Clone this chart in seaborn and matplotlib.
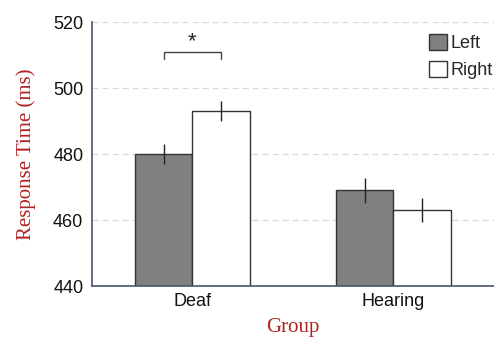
import matplotlib
matplotlib.use("Agg")
import matplotlib.pyplot as plt
import seaborn as sns
import pandas as pd
import numpy as np

groups = ["Deaf", "Hearing"]
sides = ["Left", "Right"]
left_rt = [480, 469]
right_rt = [493, 463]
left_err = [3.0, 3.8]
right_err = [3.0, 3.7]

df = pd.DataFrame({
    "Group": groups * 2,
    "Side": ["Left"] * 2 + ["Right"] * 2,
    "RT": left_rt + right_rt,
    "err": left_err + right_err,
})

sns.set_style("white")
plt.rcParams["font.family"] = ["Liberation Sans", "DejaVu Sans"]

fig = plt.figure(figsize=(4.94, 3.38), dpi=100)
ax = fig.add_axes([0.1856, 0.1538, 0.8144, 0.7811])

sns.barplot(data=df, x="Group", y="RT", hue="Side", order=groups, hue_order=sides,
            palette={"Left": "#808080", "Right": "#ffffff"}, errorbar=None,
            width=0.57, edgecolor="#333333", linewidth=1.0, ax=ax, zorder=2)

# error bars from patch centres
for side, container in zip(sides, ax.containers):
    errs = left_err if side == "Left" else right_err
    vals = left_rt if side == "Left" else right_rt
    xs = [b.get_x() + b.get_width() / 2 for b in container]
    ax.errorbar(xs, vals, yerr=errs, fmt="none", ecolor="#222222", elinewidth=1.0,
                capsize=0, zorder=3)

ax.set_ylim(440, 520)
ax.set_xlim(-0.5, 1.5)
ax.set_yticks([440, 460, 480, 500, 520])
ax.yaxis.grid(True, linestyle=(0, (5, 3)), color="#d9d9d9", linewidth=0.9, zorder=0)
ax.set_axisbelow(True)
for s in ["top", "right"]:
    ax.spines[s].set_visible(False)
for s in ["left", "bottom"]:
    ax.spines[s].set_color("#4a5566")
    ax.spines[s].set_linewidth(1.2)
ax.tick_params(axis="both", length=0, labelsize=13, colors="#111111")
ax.tick_params(axis="y", pad=6)
ax.tick_params(axis="x", pad=5)

ax.set_ylabel("Response Time (ms)", family="Liberation Serif", color="#b22222",
              fontsize=15, labelpad=12)
ax.set_xlabel("Group", family="Liberation Serif", color="#b22222", fontsize=15,
              labelpad=6)

# significance bracket between Deaf bars
c0 = ax.containers[0][0]
c1 = ax.containers[1][0]
x0 = c0.get_x() + c0.get_width() / 2
x1 = c1.get_x() + c1.get_width() / 2
ax.plot([x0, x0, x1, x1], [508.7, 510.9, 510.9, 508.7], color="#444444", lw=1.0,
        clip_on=False)
ax.text((x0 + x1) / 2, 511.0, "*", ha="center", va="bottom", fontsize=16)

leg = ax.legend(loc="upper right", bbox_to_anchor=(1.025, 0.995), frameon=False,
                fontsize=13, handlelength=1.0, handleheight=1.0, handletextpad=0.2,
                labelspacing=0.45, borderaxespad=0.2)

fig.savefig("out.png", dpi=100)
